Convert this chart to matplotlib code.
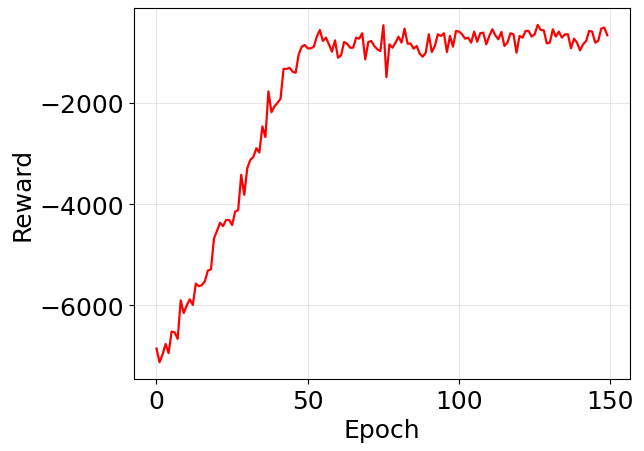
import matplotlib
matplotlib.use("Agg")
import matplotlib.pyplot as plt
import numpy as np

epochs = list(range(150))
reward = [
    -6850, -7120, -6970, -6760, -6940, -6515, -6530, -6660, -5900, -6150,
    -6000, -5880, -5990, -5570, -5620, -5600, -5520, -5310, -5290, -4680,
    -4530, -4370, -4435, -4315, -4315, -4415, -4150, -4120, -3425, -3820,
    -3295, -3130, -3075, -2900, -2985, -2470, -2680, -1780, -2190, -2075,
    -2005, -1925, -1335, -1335, -1315, -1390, -1413, -1050, -898, -865,
    -931, -931, -898, -700, -568, -786, -720, -852, -997, -773,
    -1116, -1070, -806, -839, -918, -918, -720, -740, -634, -1149,
    -806, -786, -885, -951, -984, -476, -1499, -852, -918, -819,
    -700, -819, -542, -839, -839, -938, -885, -1037, -1096, -1017,
    -654, -1004, -885, -654, -687, -634, -1004, -687, -898, -588,
    -601, -654, -740, -720, -819, -601, -799, -634, -621, -852,
    -687, -555, -674, -753, -608, -885, -819, -634, -654, -1017,
    -687, -720, -588, -588, -700, -654, -469, -568, -575, -832,
    -819, -555, -700, -601, -720, -654, -654, -931, -740, -819,
    -971, -852, -786, -588, -601, -819, -786, -542, -522, -674,
]

fig = plt.figure(figsize=(6.44, 4.52), dpi=100)
ax = fig.add_axes([0.208, 0.159, 0.770, 0.821])
ax.plot(epochs, reward, color="red", linewidth=1.6)
ax.grid(True, color="#dddddd", linewidth=0.8, alpha=0.7)
ax.set_xlabel("Epoch", fontsize=18)
ax.set_ylabel("Reward", fontsize=18)
ax.tick_params(labelsize=18)
ax.set_xticks([0, 50, 100, 150])
ax.set_yticks([-6000, -4000, -2000])
fig.savefig("out.png", dpi=100)
